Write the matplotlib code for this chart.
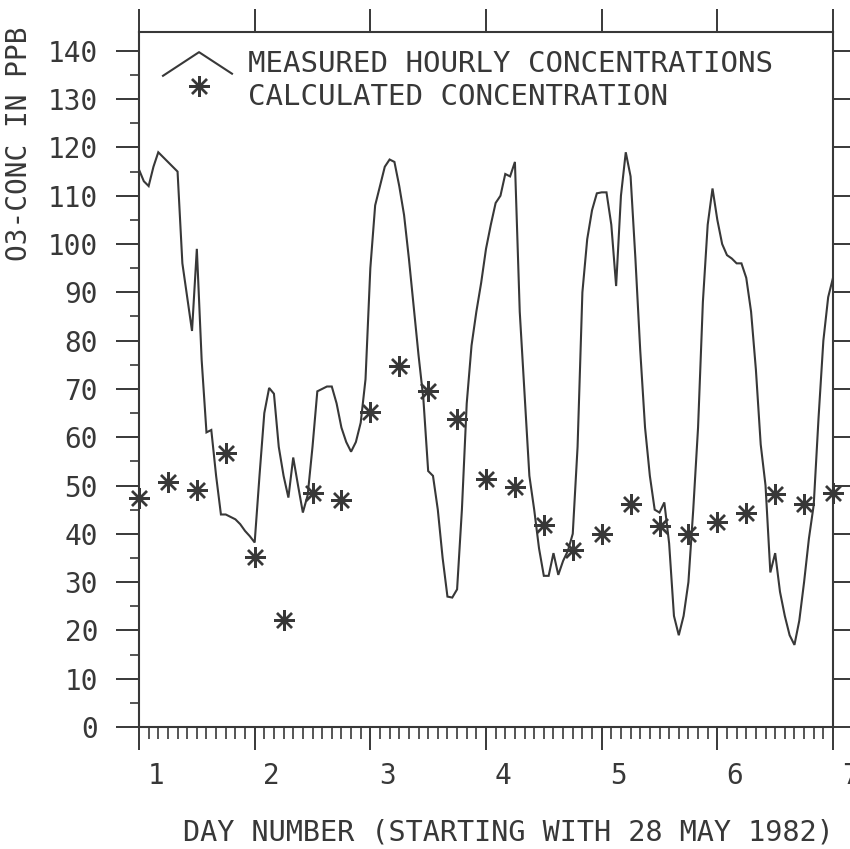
import numpy as np
import matplotlib
matplotlib.use("Agg")
import matplotlib.pyplot as plt
import matplotlib.transforms as mtransforms
from matplotlib.ticker import MultipleLocator, FixedLocator

plt.rcParams['font.family'] = ['DejaVu Sans Mono', 'DejaVu Sans']

# ---- data ----
# measured hourly ozone concentrations (ppb), starting at day 1.0, one value per hour
measured_ppb = [
    115.4, 113, 112, 116, 119, 118, 117, 116, 115, 96,
    89, 82, 99, 76, 61, 61.5, 52, 44, 44, 43.5,
    43, 42, 40.6, 39.5, 38.2, 52, 65, 70.2, 69, 58,
    52, 47.5, 55.8, 50, 44.4, 48, 58, 69.5, 70, 70.5,
    70.5, 67, 62, 59, 57, 59, 63, 72, 95, 108,
    112, 116, 117.5, 117, 112, 106, 97, 87, 77, 68,
    53, 52, 45, 35, 27, 26.8, 28.5, 45, 67, 79,
    86, 92, 99, 104, 108.5, 110, 114.5, 114, 117, 86,
    69, 52, 45, 37, 31.3, 31.3, 36, 31.5, 34.4, 36.5,
    40, 58, 90, 101, 107, 110.5, 110.7, 110.7, 104, 91.3,
    110, 119, 114, 97, 78, 62, 52, 45, 44.4, 46.5,
    38, 23, 19, 23, 30, 45, 62, 88, 104, 111.5,
    105, 100, 97.7, 97, 96, 96, 93, 86, 74, 58.5,
    50, 32, 36, 28, 23, 19, 17, 22, 30, 39,
    46, 64, 80, 89, 93,
]
# calculated concentrations (ppb), every 6 hours from day 1.0 to 7.0
calculated_ppb = [
    47.5, 50.8, 49.1, 56.7, 35.1, 22.2, 48.5, 47.0, 65.2, 74.7,
    69.6, 63.7, 51.3, 49.6, 41.8, 36.6, 39.9, 46.1, 41.6, 39.9,
    42.5, 44.4, 48.2, 46.1, 48.5,
]
day_ticks = [1, 2, 3, 4, 5, 6, 7]
conc_ticks = [0, 10, 20, 30, 40, 50, 60, 70, 80, 90, 100, 110, 120, 130, 140]
legend_labels = ["MEASURED HOURLY CONCENTRATIONS", "CALCULATED CONCENTRATION"]
x_label = "DAY NUMBER (STARTING WITH 28 MAY 1982)"
y_label = "O3-CONC IN PPB"

measured_days = 1 + np.arange(len(measured_ppb)) / 24.0
calculated_days = 1 + np.arange(len(calculated_ppb)) / 4.0

INK = "#383838"
FS = 20

fig = plt.figure(figsize=(8.5, 8.49), dpi=100)
fig.patch.set_facecolor("white")
ax = fig.add_axes([139 / 850, (849 - 727) / 849, (833 - 139) / 850, (727 - 32) / 849])

ax.plot(measured_days, measured_ppb, color=INK, lw=1.5, solid_joinstyle="miter")
ax.plot(calculated_days, calculated_ppb, linestyle="none", marker=(8, 2, 0),
        markersize=15, markeredgewidth=1.7, color=INK, clip_on=False)
ax.plot(calculated_days, calculated_ppb, linestyle="none", marker="o",
        markersize=4.5, color=INK, clip_on=False)

ax.set_xlim(1, 7)
ax.set_ylim(0, 143.9)

ax.xaxis.set_major_locator(FixedLocator(day_ticks))
ax.xaxis.set_minor_locator(MultipleLocator(1 / 12))
ax.yaxis.set_major_locator(FixedLocator(conc_ticks))
ax.yaxis.set_minor_locator(MultipleLocator(5))
ax.set_xticklabels([str(d) for d in day_ticks])
ax.set_yticklabels([str(v) for v in conc_ticks])

for sp in ax.spines.values():
    sp.set_color(INK)
    sp.set_linewidth(1.5)

ax.tick_params(which="major", direction="out", length=16.5, width=1.4, color=INK,
               top=True, right=True, labeltop=False, labelright=False,
               labelsize=FS, labelcolor=INK)
ax.tick_params(which="minor", direction="out", width=1.2, color=INK,
               top=False, right=False)
ax.tick_params(axis="x", which="minor", length=8.5)
ax.tick_params(axis="y", which="minor", length=6.5)
ax.tick_params(axis="x", which="major", pad=9)
ax.tick_params(axis="y", which="major", pad=13)

# x tick labels sit to the right of their ticks, as in the original plot
offset = mtransforms.ScaledTranslation(17 / 100, 0, fig.dpi_scale_trans)
for lbl in ax.get_xticklabels():
    lbl.set_transform(lbl.get_transform() + offset)

# legend drawn like the plotter legend
ax.plot([0.0346, 0.0865, 0.134], [0.937, 0.971, 0.940], transform=ax.transAxes,
        color=INK, lw=1.5, clip_on=False)
ax.plot([0.0865], [0.9225], transform=ax.transAxes, linestyle="none",
        marker=(8, 2, 0), markersize=15, markeredgewidth=1.7, color=INK)
ax.plot([0.0865], [0.9225], transform=ax.transAxes, linestyle="none",
        marker="o", markersize=4.5, color=INK)
ax.text(0.157, 0.954, legend_labels[0], transform=ax.transAxes, fontsize=21,
        color=INK, va="center", ha="left")
ax.text(0.157, 0.906, legend_labels[1], transform=ax.transAxes, fontsize=21,
        color=INK, va="center", ha="left")

fig.text(508 / 850, 1 - 832 / 849, x_label, fontsize=20.5, color=INK,
         ha="center", va="center")
fig.text(19 / 850, 1 - 144 / 849, y_label, fontsize=FS, color=INK,
         ha="center", va="center", rotation=90)

fig.savefig("out.png", dpi=100, facecolor="white")
